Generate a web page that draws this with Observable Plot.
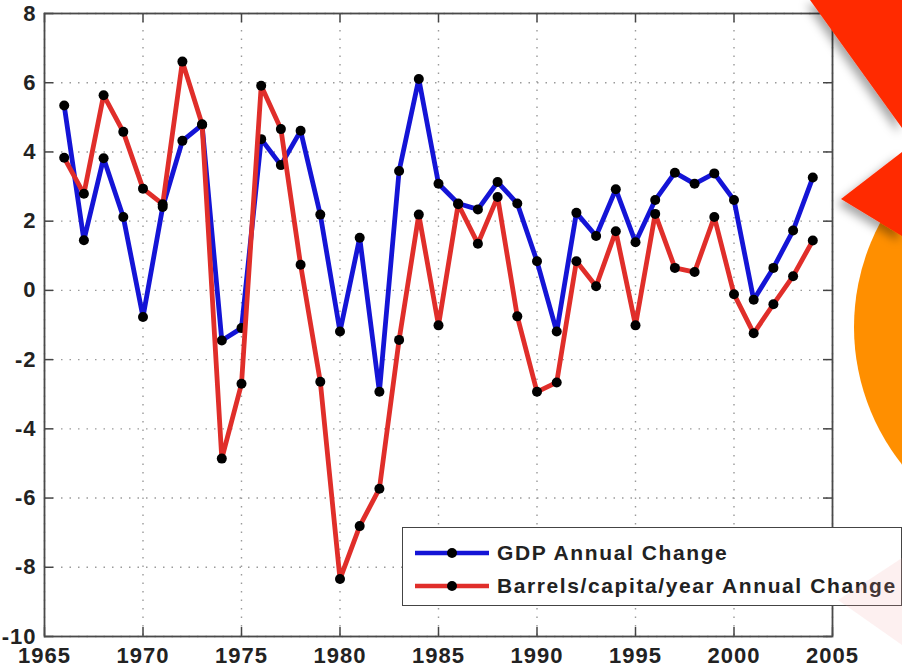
<!DOCTYPE html>
<html>
<head>
<meta charset="utf-8">
<script src="https://cdn.jsdelivr.net/npm/d3@7"></script>
<script src="https://cdn.jsdelivr.net/npm/@observablehq/plot@0.6"></script>
<style>
  html, body { margin: 0; padding: 0; background: #fff; }
  #wrap { position: relative; width: 902px; height: 668px; overflow: hidden; background: #fff; }
  #chart svg { display: block; }
  #legend {
    position: absolute; left: 402px; top: 527px; width: 500px; height: 79px;
    box-sizing: border-box; border: 1.5px solid #444; background: #fff;
    font-family: "Liberation Sans", Arial, sans-serif; font-weight: bold; font-size: 21px;
    letter-spacing: 1.6px; color: #222;
  }
  .row { position: absolute; left: 0; height: 30px; display: flex; align-items: center; }
  .row svg { margin-left: 12px; margin-right: 8px; }
  #deco { position: absolute; left: 0; top: 0; pointer-events: none; }
</style>
</head>
<body>
<div id="wrap">
  <div id="chart"></div>
  <div id="legend"></div>
  <svg id="deco" width="902" height="668"></svg>
</div>
<script>
// ---- data ----
const years = d3.range(1966, 2005);
const gdpChange = [5.34, 1.45, 3.82, 2.12, -0.77, 2.41, 4.32, 4.78, -1.45, -1.09,
  4.37, 3.62, 4.61, 2.19, -1.19, 1.52, -2.93, 3.45, 6.11, 3.08,
  2.51, 2.34, 3.13, 2.51, 0.84, -1.19, 2.24, 1.57, 2.92, 1.39,
  2.61, 3.40, 3.08, 3.38, 2.61, -0.27, 0.65, 1.73, 3.26];
const barrelsChange = [3.83, 2.79, 5.64, 4.58, 2.94, 2.49, 6.61, 4.80, -4.86, -2.70,
  5.91, 4.66, 0.74, -2.64, -8.34, -6.81, -5.73, -1.43, 2.19, -1.01,
  2.49, 1.35, 2.70, -0.75, -2.93, -2.66, 0.84, 0.12, 1.71, -1.01,
  2.21, 0.65, 0.53, 2.12, -0.11, -1.24, -0.40, 0.41, 1.44];
const seriesNames = ["GDP Annual Change", "Barrels/capita/year Annual Change"];
const seriesColors = ["#1414d6", "#e02e2a"];
const xTicks = [1965, 1970, 1975, 1980, 1985, 1990, 1995, 2000, 2005];
const yTicks = [-10, -8, -6, -4, -2, 0, 2, 4, 6, 8];

const gdpData = years.map((year, i) => ({year, value: gdpChange[i]}));
const barrelsData = years.map((year, i) => ({year, value: barrelsChange[i]}));

const W = 902, H = 668, mL = 44, mR = 70, mT = 13, mB = 32;
const frameW = W - mL - mR, frameH = H - mT - mB;
const tickLen = 9;
const gridStyle = {stroke: "#9a9a9a", strokeOpacity: 1, strokeWidth: 1.4, strokeDasharray: "1.5,7"};

const plot = Plot.plot({
  width: W, height: H,
  marginLeft: mL, marginRight: mR, marginTop: mT, marginBottom: mB,
  x: {domain: [1965, 2005]},
  y: {domain: [-10, 8]},
  style: "font-family: 'Liberation Sans', Arial, sans-serif; font-size: 22px; font-weight: bold; letter-spacing: 1px; color: #222; background: transparent;",
  marks: [
    Plot.gridX(xTicks, gridStyle),
    Plot.gridY(yTicks, gridStyle),
    // inward tick marks on all four sides
    Plot.tickX(xTicks, {x: d => d, insetTop: frameH - tickLen, stroke: "#444", strokeWidth: 1.5}),
    Plot.tickX(xTicks, {x: d => d, insetBottom: frameH - tickLen, stroke: "#444", strokeWidth: 1.5}),
    Plot.tickY(yTicks, {y: d => d, insetRight: frameW - tickLen, stroke: "#444", strokeWidth: 1.5}),
    Plot.tickY(yTicks, {y: d => d, insetLeft: frameW - tickLen, stroke: "#444", strokeWidth: 1.5}),
    Plot.axisX(xTicks, {tickSize: 0, tickPadding: 11, tickFormat: d => String(d), label: null}),
    Plot.axisY(yTicks, {tickSize: 0, tickPadding: 8, tickFormat: d => String(d), label: null}),
    Plot.line(gdpData, {x: "year", y: "value", stroke: seriesColors[0], strokeWidth: 4.8}),
    Plot.dot(gdpData, {x: "year", y: "value", r: 5, fill: "#000", stroke: "none"}),
    Plot.line(barrelsData, {x: "year", y: "value", stroke: seriesColors[1], strokeWidth: 4.8}),
    Plot.dot(barrelsData, {x: "year", y: "value", r: 5, fill: "#000", stroke: "none"}),
    Plot.frame({stroke: "#4a4a4a", strokeWidth: 1.8})
  ]
});
document.getElementById("chart").appendChild(plot);

// ---- legend ----
const legend = d3.select("#legend");
seriesNames.forEach((name, i) => {
  const row = legend.append("div").attr("class", "row").style("top", (10 + i * 33) + "px");
  const sw = row.append("svg").attr("width", 74).attr("height", 14);
  sw.append("line").attr("x1", 0).attr("x2", 74).attr("y1", 7).attr("y2", 7)
    .attr("stroke", seriesColors[i]).attr("stroke-width", 4.5);
  sw.append("circle").attr("cx", 37).attr("cy", 7).attr("r", 5).attr("fill", "#000");
  row.append("span").text(name);
});

// ---- decorative slide shapes on the right edge ----
const deco = d3.select("#deco");
const defs = deco.append("defs");
const f = defs.append("filter").attr("id", "sh").attr("x", "-50%").attr("y", "-50%").attr("width", "200%").attr("height", "200%");
f.append("feDropShadow").attr("dx", -4).attr("dy", 5).attr("stdDeviation", 5).attr("flood-color", "#000").attr("flood-opacity", 0.35);
deco.append("polygon").attr("points", "838,600 902,558 902,645").attr("fill", "#f4a0a0").attr("opacity", 0.16);
deco.append("circle").attr("cx", 1075).attr("cy", 327).attr("r", 221).attr("fill", "#ff8f00");
deco.append("polygon").attr("points", "810,0 902,0 902,128").attr("fill", "#ff2a00").attr("filter", "url(#sh)");
deco.append("polygon").attr("points", "841,199 902,152 902,236").attr("fill", "#ff2a00").attr("filter", "url(#sh)");
</script>
</body>
</html>
